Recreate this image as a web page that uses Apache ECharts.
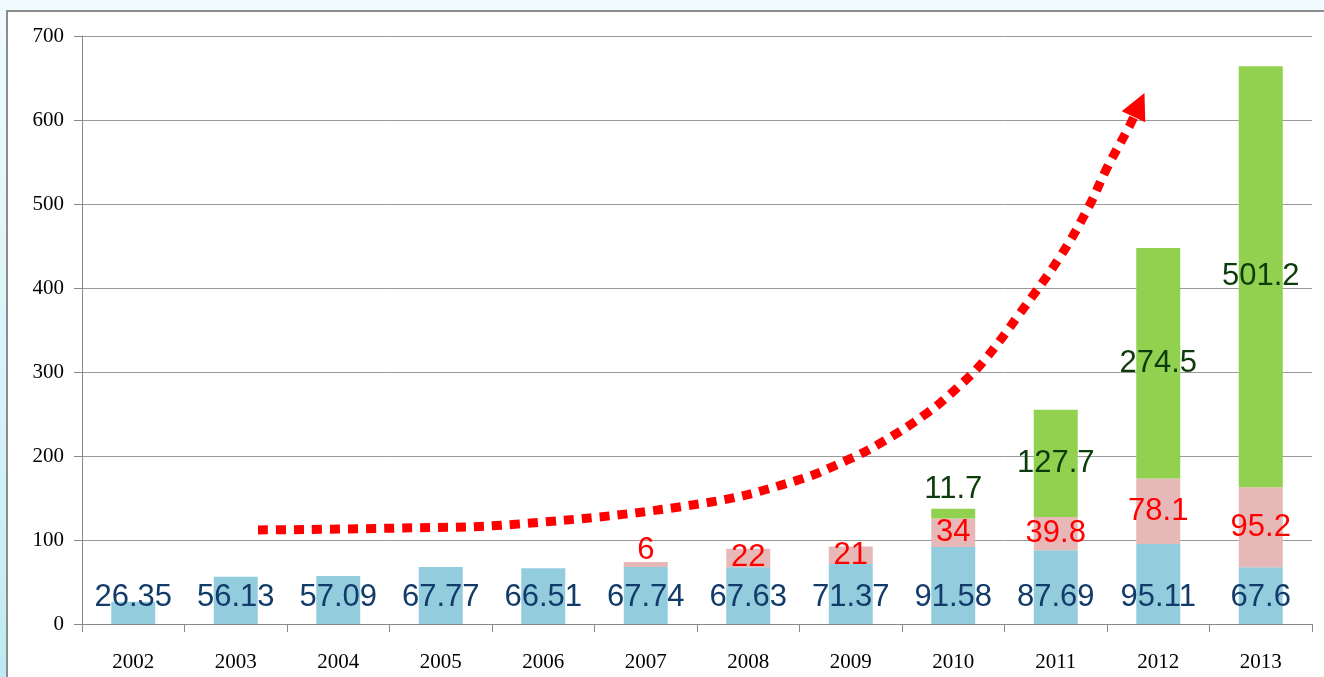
<!DOCTYPE html>
<html>
<head>
<meta charset="utf-8">
<script src="https://cdn.jsdelivr.net/npm/echarts@6/dist/echarts.min.js"></script>
<style>
  html, body { margin: 0; padding: 0; }
  body { width: 1324px; height: 677px; background: #f0fbfd; position: relative; overflow: hidden; }
  #strip { position: absolute; left: 0; top: 0; width: 6px; height: 677px;
           background: linear-gradient(to bottom, #f0fbfd 0%, #d6f2f8 60%, #bfeaf3 100%); }
  #panel { position: absolute; left: 6px; top: 10px; width: 1318px; height: 667px;
           background: #ffffff; border-left: 2px solid #8c8c8c; border-top: 2px solid #8c8c8c; box-sizing: border-box; }
  #chart { position: absolute; left: 0; top: 0; width: 1324px; height: 677px; }
</style>
</head>
<body>
<div id="strip"></div>
<div id="panel"></div>
<div id="chart"></div>
<script>
const categories = ['2002','2003','2004','2005','2006','2007','2008','2009','2010','2011','2012','2013'];
const blueValues  = [26.35, 56.13, 57.09, 67.77, 66.51, 67.74, 67.63, 71.37, 91.58, 87.69, 95.11, 67.6];
const pinkValues  = [null, null, null, null, null, 6, 22, 21, 34, 39.8, 78.1, 95.2];
const greenValues = [null, null, null, null, null, null, null, null, 11.7, 127.7, 274.5, 501.2];
const yTicks = [0, 100, 200, 300, 400, 500, 600, 700];
// trend arrow path (category index, value)
const arrowX = [1.217, 2.505, 3.754, 5.578, 6.476, 6.963, 7.285, 7.744, 8.037, 8.290, 8.651, 9.041, 9.315, 9.5, 9.724, 9.812];
const arrowY = [112, 114, 119, 144, 171, 195, 215, 251, 281, 312, 370, 437, 495, 543, 594, 618];

const sans = '"Liberation Sans", Arial, sans-serif';
const serif = '"Liberation Serif", "Times New Roman", serif';

const pinkData = pinkValues.map(v => v == null ? null : (v < 10 ? {value: v, label: {position: 'top', distance: -4}} : v));
const greenData = greenValues.map(v => v == null ? null : (v < 30 ? {value: v, label: {position: 'top', distance: 4}} : v));
const arrowData = arrowX.map((x, i) => {
  const pt = [x, arrowY[i]];
  if (i === arrowX.length - 1) {
    return {value: pt, symbol: 'triangle', symbolSize: [26, 26], symbolRotate: -25, itemStyle: {color: '#ff0000'}};
  }
  return {value: pt, symbol: 'none'};
});

const chart = echarts.init(document.getElementById('chart'), null, {renderer: 'canvas'});
chart.setOption({
  backgroundColor: 'transparent',
  animation: false,
  grid: {left: 82, right: 12, top: 36, bottom: 53, containLabel: false},
  xAxis: [{
    type: 'category',
    data: categories,
    boundaryGap: true,
    axisLine: {onZero: false, lineStyle: {color: '#888888', width: 1}},
    axisTick: {show: true, length: 8, alignWithLabel: false, lineStyle: {color: '#888888'}},
    axisLabel: {color: '#000000', fontFamily: serif, fontSize: 21, margin: 28}
  }, {
    type: 'value', min: -0.5, max: 11.5, show: false,
    axisLine: {show: false, onZero: false}, splitLine: {show: false}
  }],
  yAxis: {
    type: 'value', min: 0, max: 700, interval: 100,
    axisLine: {show: true, onZero: false, lineStyle: {color: '#888888', width: 1}},
    axisTick: {show: true, length: 8, lineStyle: {color: '#888888'}},
    splitLine: {show: true, lineStyle: {color: '#999999', width: 1}},
    axisLabel: {color: '#000000', fontFamily: serif, fontSize: 21, margin: 18,
      formatter: v => yTicks.includes(v) ? String(v) : ''}
  },
  series: [{
    type: 'bar', stack: 'total', data: blueValues, barWidth: 44,
    itemStyle: {color: '#93cddd'},
    label: {show: true, position: 'insideBottom', distance: 11, color: '#123b6a',
      fontFamily: sans, fontSize: 31}
  }, {
    type: 'bar', stack: 'total', data: pinkData, barWidth: 44,
    itemStyle: {color: '#e6b9b8'},
    label: {show: true, position: 'inside', color: '#ff0000', fontFamily: sans, fontSize: 31}
  }, {
    type: 'bar', stack: 'total', data: greenData, barWidth: 44,
    itemStyle: {color: '#92d050'},
    label: {show: true, position: 'inside', color: '#0c3c0c', fontFamily: sans, fontSize: 31}
  }, {
    type: 'line', xAxisIndex: 1, data: arrowData, smooth: 0.4,
    showSymbol: true, z: 5,
    lineStyle: {color: '#ff0000', width: 9, type: [10, 8], cap: 'butt'},
    itemStyle: {color: '#ff0000'},
    label: {show: false}
  }]
});
</script>
</body>
</html>
